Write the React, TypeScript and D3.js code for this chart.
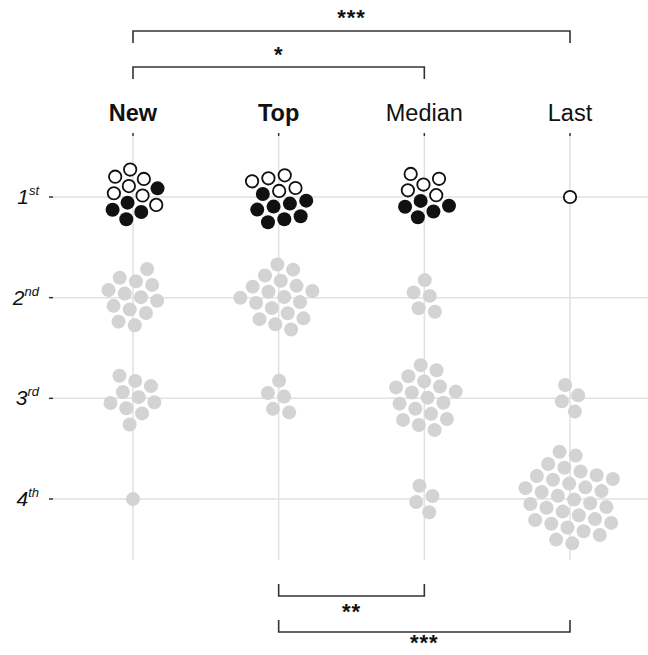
import React, { useEffect, useMemo } from "react";
import * as d3 from "d3";

// columns and rows
const groups = ["New", "Top", "Median", "Last"];
const boldGroups = ["New", "Top"];
const ranks = ["1", "2", "3", "4"];
const rankSuffix = ["st", "nd", "rd", "th"];

// number of dots per rank, one value per group
const firstOpen = [7, 5, 5, 1];
const firstFilled = [5, 8, 5, 0];
const secondCounts = [13, 18, 5, 0];
const thirdCounts = [10, 5, 17, 4];
const fourthCounts = [1, 0, 4, 31];

// significance brackets
const topBrackets = [
  { from: "New", to: "Median", label: "*" },
  { from: "New", to: "Last", label: "***" },
];
const bottomBrackets = [
  { from: "Top", to: "Median", label: "**" },
  { from: "Top", to: "Last", label: "***" },
];

const width = 648;
const height = 655;
const R = 7;
const FONT = "'Liberation Sans', Arial, Helvetica, sans-serif";

type Dot = { kind: "open" | "filled" | "gray"; x?: number; y?: number; tx: number; ty: number };

function packCluster(kinds: Dot["kind"][]) {
  const split = kinds.includes("open") && kinds.includes("filled");
  const nodes: Dot[] = kinds.map((k) => ({
    kind: k,
    tx: 0,
    ty: !split ? 0 : k === "open" ? -11 : 10,
  }));
  if (!nodes.length) return nodes;
  const sim = d3
    .forceSimulation(nodes as any)
    .force("x", d3.forceX((d: any) => d.tx).strength(0.08))
    .force("y", d3.forceY((d: any) => d.ty).strength(split ? 0.2 : 0.08))
    .force("collide", d3.forceCollide(R + 1.3).strength(1).iterations(3))
    .stop();
  for (let i = 0; i < 300; i++) sim.tick();
  return nodes;
}

export default function App() {
  useEffect(() => {
    document.body.style.margin = "0";
  }, []);

  const x = d3.scalePoint<string>().domain(groups).range([133, 570]);
  const y = d3.scalePoint<string>().domain(ranks).range([197, 499]);

  const clusters = useMemo(() => {
    const out: { g: string; r: string; dots: Dot[] }[] = [];
    groups.forEach((g, i) => {
      const perRank: Dot["kind"][][] = [
        [
          ...d3.range(firstOpen[i]).map(() => "open" as const),
          ...d3.range(firstFilled[i]).map(() => "filled" as const),
        ],
        d3.range(secondCounts[i]).map(() => "gray" as const),
        d3.range(thirdCounts[i]).map(() => "gray" as const),
        d3.range(fourthCounts[i]).map(() => "gray" as const),
      ];
      perRank.forEach((kinds, j) => {
        out.push({ g, r: ranks[j], dots: packCluster(kinds) });
      });
    });
    return out;
  }, []);

  const gridTop = 136;
  const gridBottom = 560;
  const gridLeft = 53;

  const bracket = (b: { from: string; to: string; label: string }, yLine: number, dir: number, yText: number, key: string) => {
    const x0 = x(b.from)!;
    const x1 = x(b.to)!;
    return (
      <g key={key}>
        <path
          d={`M${x0},${yLine + dir * 12}V${yLine}H${x1}V${yLine + dir * 12}`}
          fill="none"
          stroke="#333"
          strokeWidth={1.6}
        />
        <text
          x={(x0 + x1) / 2}
          y={yText}
          textAnchor="middle"
          fontFamily={FONT}
          fontWeight="bold"
          fontSize={22}
          letterSpacing={1}
          fill="#111"
        >
          {b.label}
        </text>
      </g>
    );
  };

  return (
    <svg width={width} height={height} style={{ display: "block" }}>
      <rect width={width} height={height} fill="#fff" />
      {/* grid */}
      {ranks.map((r) => (
        <g key={"h" + r}>
          <line x1={gridLeft} x2={width} y1={y(r)} y2={y(r)} stroke="#e1e1e1" strokeWidth={1.5} />
          <line x1={49} x2={gridLeft} y1={y(r)} y2={y(r)} stroke="#333" strokeWidth={1.5} />
        </g>
      ))}
      {groups.map((g) => (
        <g key={"v" + g}>
          <line x1={x(g)} x2={x(g)} y1={gridTop} y2={gridBottom} stroke="#e1e1e1" strokeWidth={1.5} />
          <line x1={x(g)} x2={x(g)} y1={133} y2={gridTop} stroke="#333" strokeWidth={1.5} />
        </g>
      ))}
      {/* column labels */}
      {groups.map((g) => (
        <text
          key={"l" + g}
          x={x(g)}
          y={121}
          textAnchor="middle"
          fontFamily={FONT}
          fontSize={23.5}
          fontWeight={boldGroups.includes(g) ? "bold" : "normal"}
          fill="#111"
        >
          {g}
        </text>
      ))}
      {/* rank labels */}
      {ranks.map((r, i) => (
        <text
          key={"r" + r}
          x={39}
          y={y(r)! + 7}
          textAnchor="end"
          fontFamily={FONT}
          fontStyle="italic"
          fontSize={21}
          fill="#111"
        >
          <tspan>{r}</tspan>
          <tspan fontSize={13} dy={-9}>
            {rankSuffix[i]}
          </tspan>
        </text>
      ))}
      {/* dots */}
      {clusters.map((c) => (
        <g key={c.g + c.r} transform={`translate(${x(c.g)},${y(c.r)})`}>
          {c.dots.map((d, k) => (
            <circle
              key={k}
              cx={d.x}
              cy={d.y}
              r={d.kind === "open" ? R - 0.8 : R}
              fill={d.kind === "open" ? "#fff" : d.kind === "filled" ? "#111" : "#d3d3d3"}
              stroke={d.kind === "open" ? "#111" : "none"}
              strokeWidth={d.kind === "open" ? 1.8 : 0}
            />
          ))}
        </g>
      ))}
      {/* brackets */}
      {bracket(topBrackets[0], 67, 1, 62, "t0")}
      {bracket(topBrackets[1], 31, 1, 25, "t1")}
      {bracket(bottomBrackets[0], 596, -1, 619, "b0")}
      {bracket(bottomBrackets[1], 632, -1, 650, "b1")}
    </svg>
  );
}
